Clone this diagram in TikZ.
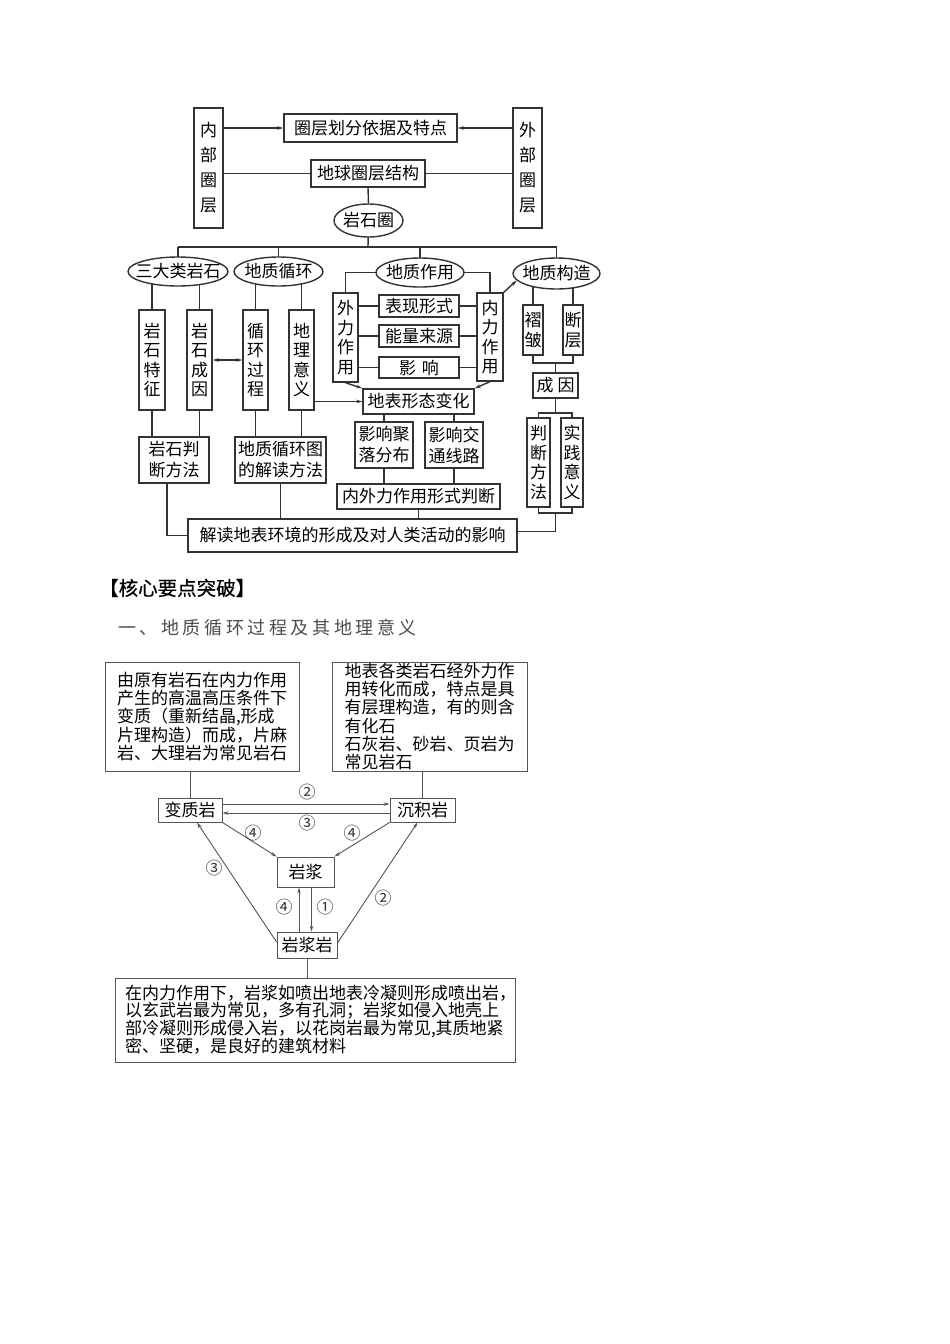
\documentclass[tikz,border=0pt]{standalone}
\usepackage{fontspec}
\newfontfamily\cjk{Noto Sans CJK SC}
\newfontfamily\cjkb[FakeBold=0.6]{Noto Sans CJK SC}
\newfontfamily\cjks[LetterSpace=20]{Noto Sans CJK SC}
\usetikzlibrary{shapes.geometric,arrows.meta,backgrounds}
\definecolor{ln}{HTML}{333333}
\definecolor{ln2}{HTML}{555555}
\definecolor{hd}{HTML}{4D4D4D}
\begin{document}
\begin{tikzpicture}[x=1pt,y=-1pt,
  tf/.style={font=\cjk\fontsize{17}{19}\selectfont},
  tbox/.style={draw=ln, line width=1.4pt, fill=white, inner sep=0pt, align=center, tf},
  vbox/.style={tbox, font=\cjk\fontsize{17}{19.5}\selectfont},
  lbl/.style={tf, inner sep=0pt},
  ell/.style={draw=ln, line width=1.4pt, fill=white, ellipse, inner sep=0pt, label={[lbl]center:#1}},
  tl/.style={draw=ln, line width=1.4pt},
  ta/.style={tl, -{Stealth[length=6pt,width=3.5pt]}},
  tda/.style={tl, {Stealth[length=6pt,width=3.5pt]}-{Stealth[length=6pt,width=3.5pt]}},
  bl/.style={draw=ln2, line width=0.9pt, fill=white, inner sep=0pt, font=\cjk\fontsize{17}{18.2}\selectfont},
  bln/.style={draw=ln2, line width=0.9pt},
  ba/.style={bln, -{Stealth[length=6pt,width=3.5pt]}},
  cn/.style={font=\cjk\fontsize{17}{17}\selectfont, text=ln, inner sep=0pt}
]
\useasboundingbox (0,0) rectangle (950,1344);
\begin{scope}[on background layer]
\fill[white] (0,0) rectangle (950,1344);
\end{scope}

% ---------- top concept map ----------
\node[vbox, font=\cjk\fontsize{17}{25}\selectfont, minimum width=29, minimum height=120] (nb) at (208.5,168) {内\\部\\圈\\层};
\node[vbox, font=\cjk\fontsize{17}{25}\selectfont, minimum width=29, minimum height=120] (wb) at (527.5,168) {外\\部\\圈\\层};
\node[tbox, minimum width=173, minimum height=28] (qc) at (370.5,128) {圈层划分依据及特点};
\node[tbox, minimum width=114, minimum height=27] (dq) at (368,173.5) {地球圈层结构};
\node[ell=岩石圈, minimum width=69, minimum height=33] (ys) at (368.5,220.5) {};
\node[ell=三大类岩石, minimum width=100, minimum height=29] (e1) at (178,271.5) {};
\node[ell=地质循环, minimum width=89, minimum height=29] (e2) at (278.5,271.5) {};
\node[ell=地质作用, minimum width=88, minimum height=29] (e3) at (420,272.5) {};
\node[ell=地质构造, minimum width=87, minimum height=31] (e4) at (556.5,273.5) {};
\coordinate (bar) at (368,247);

\node[vbox, minimum width=26, minimum height=100] (b1) at (152,360) {岩\\石\\特\\征};
\node[vbox, minimum width=25, minimum height=100] (b2) at (199.5,360) {岩\\石\\成\\因};
\node[vbox, minimum width=25, minimum height=100] (b3) at (255.5,360) {循\\环\\过\\程};
\node[vbox, minimum width=25, minimum height=100] (b4) at (301.5,360) {地\\理\\意\\义};

\node[vbox, minimum width=25, minimum height=89] (wl) at (345.5,337.5) {外\\力\\作\\用};
\node[vbox, minimum width=26, minimum height=88] (nl) at (490,337) {内\\力\\作\\用};
\node[tbox, minimum width=80, minimum height=22] (bx) at (419,306) {表现形式};
\node[tbox, minimum width=80, minimum height=22] (ny) at (419,336) {能量来源};
\node[tbox, minimum width=80, minimum height=21] (yx) at (419,367.5) {影\hspace{6pt}响};
\node[tbox, minimum width=111, minimum height=25] (db) at (418.5,401.5) {地表形态变化};

\node[vbox, minimum width=20, minimum height=50] (zz) at (533,330) {褶\\皱};
\node[vbox, minimum width=20, minimum height=50] (dc) at (573,330) {断\\层};
\node[tbox, minimum width=45, minimum height=25] (cy) at (555.5,385.5) {成\hspace{4pt}因};
\node[vbox, minimum width=23, minimum height=89] (pd) at (538.5,462.5) {判\\断\\方\\法};
\node[vbox, minimum width=22, minimum height=89] (sj) at (572,462.5) {实\\践\\意\\义};
\coordinate (j1) at (555.5,363);
\coordinate (j2) at (555.5,413);
\coordinate (j3) at (555.5,513);

\node[tbox, font=\cjk\fontsize{17}{21}\selectfont, minimum width=70, minimum height=46] (rp) at (174,460) {岩石判\\断方法};
\node[tbox, font=\cjk\fontsize{17}{21}\selectfont, minimum width=91, minimum height=46] (dx) at (280.5,460) {地质循环图\\的解读方法};
\node[tbox, font=\cjk\fontsize{17}{21}\selectfont, minimum width=58, minimum height=46] (yj) at (384,445) {影响聚\\落分布};
\node[tbox, font=\cjk\fontsize{17}{21}\selectfont, minimum width=58, minimum height=46] (yt) at (454,445) {影响交\\通线路};
\node[tbox, minimum width=163, minimum height=25] (nw) at (418.5,496.5) {内外力作用形式判断};
\node[tbox, minimum width=329, minimum height=33] (jd) at (352.5,535.5) {解读地表环境的形成及对人类活动的影响};

\begin{scope}[on background layer]
\draw[ta] (nb.east |- qc.west) -- (qc.west);
\draw[ta] (wb.west |- qc.east) -- (qc.east);
\draw[tl] (nb.east |- dq.west) -- (dq.west);
\draw[tl] (dq.east) -- (wb.west |- dq.east);
\draw[tl] (dq.south) -- (ys.north);
\draw[tl] (ys.center) -- (bar);
\draw[tl] (e1.center |- bar) -- (e4.center |- bar);
\draw[tl] (e1.center |- bar) -- (e1.center);
\draw[tl] (e2.center |- bar) -- (e2.center);
\draw[tl] (e3.center |- bar) -- (e3.center);
\draw[tl] (e4.center |- bar) -- (e4.center);
\draw[tl] (b1.north) -- (b1.north |- e1.center);
\draw[tl] (b2.north) -- (b2.north |- e1.center);
\draw[tl] (b3.north) -- (b3.north |- e2.center);
\draw[tl] (b4.north) -- (b4.north |- e2.center);
\draw[tda] (b2.east) -- (b3.west);
\draw[tl] (e3.center) -| (wl.north);
\draw[tl] (e3.center) -| (nl.north);
\draw[tl] (wl.center |- bx.center) -- (nl.center |- bx.center);
\draw[tl] (wl.center |- ny.center) -- (nl.center |- ny.center);
\draw[tl] (wl.center |- yx.center) -- (nl.center |- yx.center);
\draw[ta] (wl.south) -- (db.north west);
\draw[ta] (nl.south) -- (db.north east);
\draw[ta] (nl.north east) -- (e4.190);
\draw[ta] (b4.east |- db.west) -- (db.west);
\draw[tl] (zz.north) -- (zz.north |- e4.center);
\draw[tl] (dc.north) -- (dc.north |- e4.center);
\draw[tl] (zz.south) |- (j1) -| (dc.south);
\draw[tl] (j1) -- (cy.north);
\draw[tl] (cy.south) -- (j2);
\draw[tl] (pd.north) |- (j2) -| (sj.north);
\draw[tl] (pd.south) |- (j3) -| (sj.south);
\draw[tl] (j3) |- ([yshift=4pt]jd.east);
\draw[tl] (b1.south) -- (b1.south |- rp.north);
\draw[tl] (b2.south) -- (b2.south |- rp.north);
\draw[tl] (b3.south) -- (b3.south |- dx.north);
\draw[tl] (b4.south) -- (b4.south |- dx.north);
\draw[tl] ([xshift=-7pt]rp.south) |- (jd.west);
\draw[tl] (dx.south) -- (dx.south |- jd.north);
\draw[tl] (yj.north) -- (yj.north |- db.south);
\draw[tl] (yt.north) -- (yt.north |- db.south);
\draw[tl] (yj.south) -- (yj.south |- nw.north);
\draw[tl] (yt.south) -- (yt.south |- nw.north);
\draw[tl] (nw.south) -- (nw.south |- jd.north);
\end{scope}

% ---------- headings ----------
\node[anchor=west, font=\cjkb\fontsize{19.5}{20}\selectfont, inner sep=0pt] (title) at (99,588) {【核心要点突破】};
\node[anchor=west, text=hd, font=\cjks\fontsize{18}{20}\selectfont, inner sep=0pt] (sub) at (118,628) {一、地质循环过程及其地理意义};

% ---------- rock cycle ----------
\node[bl, minimum width=194, minimum height=109, text width=170, align=left] (lb) at (202,716.5)
 {由原有岩石在内力作用\\产生的高温高压条件下\\变质（重新结晶,形成\\片理构造）而成，片麻\\岩、大理岩为常见岩石};
\node[bl, minimum width=195, minimum height=109, text width=170, align=left] (rb) at (429.5,716.5)
 {地表各类岩石经外力作\\用转化而成，特点是具\\有层理构造，有的则含\\有化石\\石灰岩、砂岩、页岩为\\常见岩石};
\node[bl, minimum width=64, minimum height=24] (bz) at (190,810) {变质岩};
\node[bl, minimum width=65, minimum height=24] (cj) at (422.5,810) {沉积岩};
\node[bl, minimum width=57, minimum height=30] (yj2) at (305.5,872) {岩浆};
\node[bl, minimum width=60, minimum height=26] (yjy) at (307,945) {岩浆岩};
\node[bl, font=\cjk\fontsize{17}{16.4}\selectfont, minimum width=400, minimum height=84, text width=380, align=left] (bt) at (315,1020)
 {在内力作用下，岩浆如喷出地表冷凝则形成喷出岩，\\以玄武岩最为常见，多有孔洞；岩浆如侵入地壳上\\部冷凝则形成侵入岩，以花岗岩最为常见,其质地紧\\密、坚硬，是良好的建筑材料};

\draw[bln] (bz.north) -- (bz.north |- lb.south);
\draw[bln] (cj.north) -- (cj.north |- rb.south);
\draw[bln] (yjy.south) -- (yjy.south |- bt.north);
\draw[ba] ([yshift=6pt]bz.east) -- ([yshift=6pt]cj.west);
\draw[ba] ([yshift=-3pt]cj.west) -- ([yshift=-3pt]bz.east);
\draw[ba] (bz.south east) -- (yj2.north west);
\draw[ba] (cj.south west) -- (yj2.north east);
\draw[ba] ([xshift=-8pt]yjy.north) -- ([xshift=-8pt]yjy.north |- yj2.south);
\draw[ba] ([xshift=6pt]yj2.south) -- ([xshift=6pt]yj2.south |- yjy.north);
\draw[ba] ([yshift=3pt]yjy.west) -- ([xshift=7pt]bz.south);
\draw[ba] ([yshift=2pt]yjy.east) -- ([xshift=-5pt]cj.south);

\node[cn] (n1) at (307,792) {②};
\node[cn] (n2) at (307,823) {③};
\node[cn] (n3) at (253,833) {④};
\node[cn] (n4) at (352,833) {④};
\node[cn] (n5) at (284,907) {④};
\node[cn] (n6) at (325,907) {①};
\node[cn] (n7) at (214,868) {③};
\node[cn] (n8) at (383,898) {②};
\end{tikzpicture}
\end{document}
